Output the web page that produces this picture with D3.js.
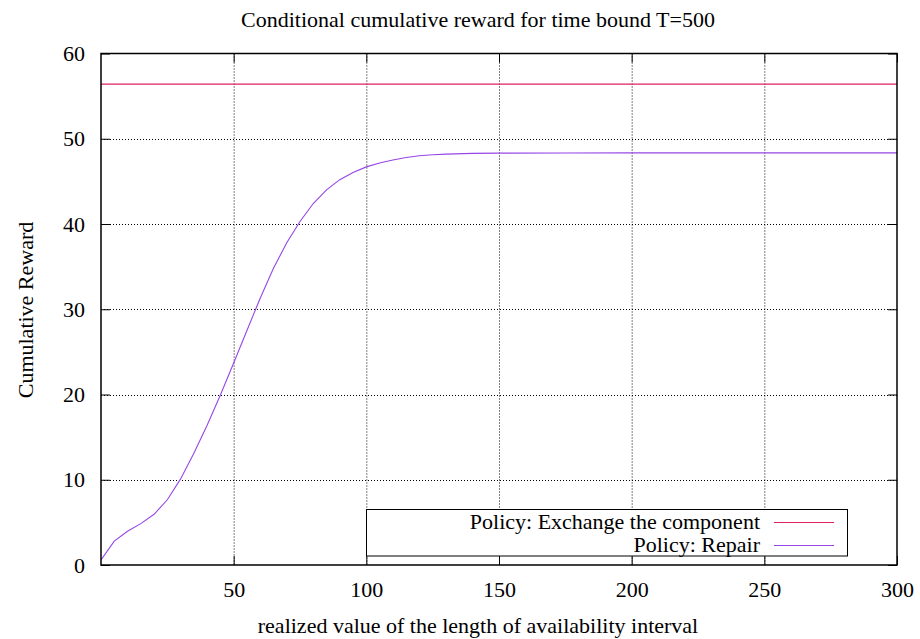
<!DOCTYPE html>
<html>
<head>
<meta charset="utf-8">
<script src="https://cdn.jsdelivr.net/npm/d3@7"></script>
<style>
  html, body { margin: 0; padding: 0; background: #fff; }
</style>
</head>
<body>
<svg id="chart" width="920" height="639"></svg>
<script>
// Realized length of the availability interval (x) and cumulative reward under the repair policy
const intervalLength = [0, 5, 10, 15, 20, 25, 30, 35, 40, 45, 50, 55, 60, 65, 70, 75, 80, 85, 90, 95,
  100, 105, 110, 115, 120, 125, 130, 140, 150, 175, 200, 250, 300];
const repairReward = [0.6, 2.8, 3.95, 4.85, 5.95, 7.65, 10.1, 13.1, 16.4, 19.95, 23.7, 27.5, 31.3, 34.8,
  37.8, 40.3, 42.4, 44.0, 45.2, 46.05, 46.7, 47.15, 47.5, 47.8, 48.0, 48.12, 48.2, 48.28, 48.31,
  48.33, 48.34, 48.34, 48.34];
// Exchanging the component gives a constant reward
const exchangeX = [0, 300];
const exchangeReward = [56.4, 56.4];

const xTicks = [50, 100, 150, 200, 250, 300];
const yTicks = [0, 10, 20, 30, 40, 50, 60];

const seriesNames = ["Policy: Exchange the component", "Policy: Repair"];
const seriesColors = ["#e0205f", "#9646e6"];

const FONT = "Liberation Serif";
const svg = d3.select("#chart").attr("font-family", FONT);
const m = { left: 101, right: 897, top: 53.5, bottom: 565 };

const x = d3.scaleLinear().domain([0, 300]).range([m.left, m.right]);
const y = d3.scaleLinear().domain([0, 60]).range([m.bottom, m.top]);

// Dotted grid
const grid = svg.append("g");
grid.selectAll("line.gx").data(xTicks.filter(t => t < 300)).join("line")
  .attr("x1", d => x(d) + 0.5).attr("x2", d => x(d) + 0.5)
  .attr("y1", m.top).attr("y2", m.bottom)
  .attr("stroke", "#000").attr("stroke-width", 1).attr("stroke-dasharray", "1,2");
grid.selectAll("line.gy").data(yTicks.filter(t => t > 0 && t < 60)).join("line")
  .attr("x1", m.left).attr("x2", m.right)
  .attr("y1", d => Math.round(y(d)) + 0.5).attr("y2", d => Math.round(y(d)) + 0.5)
  .attr("stroke", "#000").attr("stroke-width", 1).attr("stroke-dasharray", "1,2");

// Axes with inward ticks mirrored on all four sides
const tickLen = 9;
const xAxis = d3.axisBottom(x).tickValues(xTicks).tickSize(-tickLen).tickPadding(16);
const gx = svg.append("g").attr("transform", `translate(0,${m.bottom})`).call(xAxis);
gx.select(".domain").remove();
gx.attr("font-family", FONT).attr("font-size", 22);
gx.selectAll("text").attr("font-family", FONT).attr("font-size", 22);
gx.selectAll("line").attr("stroke", "#000");

const xTop = d3.axisTop(x).tickValues(xTicks).tickSize(-tickLen).tickFormat("");
const gxt = svg.append("g").attr("transform", `translate(0,${m.top})`).call(xTop);
gxt.select(".domain").remove();

const yAxis = d3.axisLeft(y).tickValues(yTicks).tickSize(-tickLen).tickPadding(16);
const gy = svg.append("g").attr("transform", `translate(${m.left},0)`).call(yAxis);
gy.select(".domain").remove();
gy.attr("font-family", FONT).attr("font-size", 22);
gy.selectAll("text").attr("font-family", FONT).attr("font-size", 22);
gy.selectAll("line").attr("stroke", "#000");

const yRight = d3.axisRight(y).tickValues(yTicks).tickSize(-tickLen).tickFormat("");
const gyr = svg.append("g").attr("transform", `translate(${m.right},0)`).call(yRight);
gyr.select(".domain").remove();

// Data lines
const line = d3.line().x(d => x(d[0])).y(d => y(d[1]));
svg.append("clipPath").attr("id", "plotclip").append("rect")
  .attr("x", m.left).attr("y", m.top).attr("width", m.right - m.left).attr("height", m.bottom - m.top);

svg.append("path")
  .datum(exchangeX.map((v, i) => [v, exchangeReward[i]]))
  .attr("d", line).attr("fill", "none")
  .attr("stroke", seriesColors[0]).attr("stroke-width", 1.3)
  .attr("clip-path", "url(#plotclip)");

svg.append("path")
  .datum(intervalLength.map((v, i) => [v, repairReward[i]]))
  .attr("d", line).attr("fill", "none")
  .attr("stroke", seriesColors[1]).attr("stroke-width", 1.1)
  .attr("clip-path", "url(#plotclip)");

// Legend with opaque box
const lg = svg.append("g");
lg.append("rect").attr("x", 366.5).attr("y", 509.5).attr("width", 481).attr("height", 46.5)
  .attr("fill", "#fff").attr("stroke", "#000").attr("stroke-width", 1);
seriesNames.forEach((name, i) => {
  const cy = 521.5 + i * 23.5;
  lg.append("text").attr("x", 760).attr("y", cy).attr("dy", "0.33em")
    .attr("text-anchor", "end").attr("font-family", FONT).attr("font-size", 22).text(name);
  lg.append("line").attr("x1", 774).attr("x2", 834)
    .attr("y1", Math.round(cy) + 0.5).attr("y2", Math.round(cy) + 0.5)
    .attr("stroke", seriesColors[i]).attr("stroke-width", 1.2);
});

// Frame
svg.append("rect").attr("x", m.left).attr("y", m.top)
  .attr("width", m.right - m.left).attr("height", m.bottom - m.top)
  .attr("fill", "none").attr("stroke", "#000").attr("stroke-width", 1.5);

// Titles
svg.append("text").attr("x", 478).attr("y", 26.5).attr("text-anchor", "middle")
  .attr("font-family", FONT).attr("font-size", 22)
  .text("Conditional cumulative reward for time bound T=500");
svg.append("text").attr("x", 478).attr("y", 633).attr("text-anchor", "middle")
  .attr("font-family", FONT).attr("font-size", 22)
  .text("realized value of the length of availability interval");
svg.append("text").attr("transform", "translate(33,310) rotate(-90)").attr("text-anchor", "middle")
  .attr("font-family", FONT).attr("font-size", 22)
  .text("Cumulative Reward");
</script>
</body>
</html>
